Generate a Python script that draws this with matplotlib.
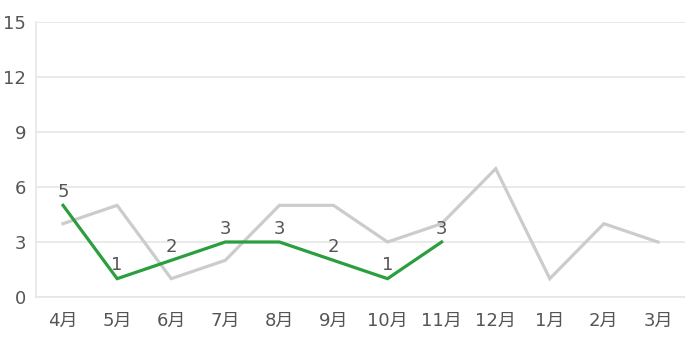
import matplotlib
matplotlib.use("Agg")
import matplotlib.pyplot as plt

plt.rcParams['font.family'] = ['DejaVu Sans', 'Noto Sans CJK JP']

months = ["4月", "5月", "6月", "7月", "8月", "9月", "10月", "11月", "12月", "1月", "2月", "3月"]
last_year = [4, 5, 1, 2, 5, 5, 3, 4, 7, 1, 4, 3]
this_year = [5, 1, 2, 3, 3, 2, 1, 3]
y_ticks = [0, 3, 6, 9, 12, 15]

TEXT = "#555555"
GRID = "#e6e6e6"

fig = plt.figure(figsize=(6.85, 3.52), dpi=100)
ax = fig.add_axes([36 / 685, 55 / 352, 649 / 685, 275 / 352])

x_all = list(range(len(months)))
x_now = list(range(len(this_year)))

ax.plot(x_all, last_year, color="#cccccc", lw=2.3, zorder=2, solid_joinstyle="miter")
ax.plot(x_now, this_year, color="#2b9e3e", lw=2.3, zorder=3, solid_joinstyle="miter")

for x, v in zip(x_now, this_year):
    ax.annotate(str(v), (x, v), xytext=(0, 3), textcoords="offset points",
                ha="center", va="bottom", fontsize=13, color=TEXT, zorder=4)

ax.set_xlim(-0.5, len(months) - 0.5)
ax.set_ylim(0, 15)
ax.set_yticks(y_ticks)
ax.set_xticks(x_all)
ax.set_xticklabels(months)

ax.grid(axis="y", color=GRID, lw=1.2, zorder=0)
ax.set_axisbelow(True)
for side in ["top", "right"]:
    ax.spines[side].set_visible(False)
for side in ["left", "bottom"]:
    ax.spines[side].set_color(GRID)
    ax.spines[side].set_linewidth(1.2)

ax.tick_params(length=0, labelsize=13, labelcolor=TEXT)
ax.tick_params(axis="y", pad=7)
ax.tick_params(axis="x", pad=11)

fig.savefig("out.png", dpi=100)
